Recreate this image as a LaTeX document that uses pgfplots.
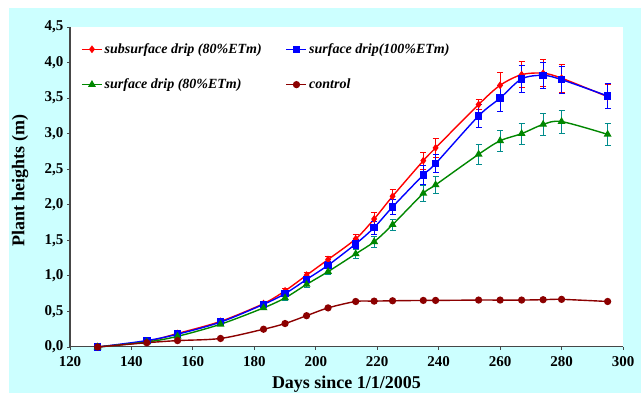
\documentclass[border=0pt]{standalone}
\usepackage{fontspec}
\setmainfont{Liberation Serif}
\usepackage{pgfplots}
\pgfplotsset{compat=1.18}
\definecolor{bgcyan}{RGB}{204,255,255}
\definecolor{axgray}{RGB}{70,70,70}
\definecolor{dgreen}{RGB}{0,135,0}
\definecolor{dred}{RGB}{140,0,0}
\definecolor{tealbar}{RGB}{0,140,140}
\begin{document}
\begin{tikzpicture}[x=1pt,y=1pt]
\fill[white] (0,0) rectangle (641,393);
\fill[bgcyan] (9,0) rectangle (641,385);
\begin{axis}[
  at={(70pt,46pt)}, anchor=south west,
  scale only axis, width=553pt, height=320pt,
  xmin=120, xmax=300, ymin=0, ymax=4.5,
  axis background/.style={fill=white},
  axis x line*=bottom, axis y line*=left,
  axis line style={axgray, line width=1pt},
  xtick={120,140,...,300},
  ytick={0,0.5,...,4.5},
  tick align=outside, major tick length=3pt,
  tick style={axgray, line width=0.8pt},
  /pgf/number format/assume math mode=true,
  yticklabel={\pgfmathprintnumber[fixed,fixed zerofill,precision=1,use comma]{\tick}},
  xticklabel style={/pgf/number format/1000 sep={}},
  tick label style={font=\fontsize{15}{15}\selectfont\bfseries},
  xticklabel style={yshift=-3pt},
  xlabel={Days since 1/1/2005},
  ylabel={Plant heights (m)},
  label style={font=\fontsize{18}{18}\selectfont\bfseries},
  xlabel style={at={(axis description cs:0.5,-0.116)}, anchor=center},
  ylabel style={at={(axis description cs:-0.09,0.52)}, anchor=center},
  clip=false,
  legend columns=2,
  legend style={draw=none, fill=none, at={(axis description cs:0.02,0.955)}, anchor=north west,
    font=\fontsize{14}{14}\selectfont\bfseries\itshape,
    /tikz/every even column/.append style={column sep=22pt},
    row sep=20pt, inner sep=0pt},
  legend cell align=left,
  legend image code/.code={\draw[mark repeat=2,mark phase=2] plot coordinates {(0pt,0pt) (10pt,0pt) (20pt,0pt)};},
  every axis plot/.append style={line width=1.4pt, smooth},
  error bars/error bar style={line width=0.8pt},
  error bars/error mark options={rotate=90, mark size=3pt, line width=0.8pt},
]
\addplot[red, mark=diamond*, mark size=2.8pt, mark options={solid},
  error bars/.cd, y dir=both, y explicit] coordinates {
 (129,0.00) +- (0,0.00)
 (145,0.08) +- (0,0.01)
 (155,0.19) +- (0,0.02)
 (169,0.36) +- (0,0.02)
 (183,0.61) +- (0,0.02)
 (190,0.79) +- (0,0.03)
 (197,1.01) +- (0,0.04)
 (204,1.23) +- (0,0.05)
 (213,1.52) +- (0,0.07)
 (219,1.80) +- (0,0.09)
 (225,2.12) +- (0,0.10)
 (235,2.62) +- (0,0.12)
 (239,2.80) +- (0,0.14)
 (253,3.41) +- (0,0.07)
 (260,3.68) +- (0,0.18)
 (267,3.83) +- (0,0.18)
 (274,3.85) +- (0,0.19)
 (280,3.78) +- (0,0.20)
 (295,3.52) +- (0,0.17)
};
\addlegendentry{subsurface drip (80\%ETm)}
\addplot[blue, mark=square*, mark size=3pt, mark options={solid},
  error bars/.cd, y dir=both, y explicit] coordinates {
 (129,0.00) +- (0,0.00)
 (145,0.09) +- (0,0.01)
 (155,0.18) +- (0,0.02)
 (169,0.35) +- (0,0.02)
 (183,0.60) +- (0,0.02)
 (190,0.75) +- (0,0.03)
 (197,0.95) +- (0,0.04)
 (204,1.15) +- (0,0.05)
 (213,1.45) +- (0,0.07)
 (219,1.68) +- (0,0.09)
 (225,1.97) +- (0,0.10)
 (235,2.42) +- (0,0.13)
 (239,2.58) +- (0,0.13)
 (253,3.25) +- (0,0.16)
 (260,3.50) +- (0,0.18)
 (267,3.77) +- (0,0.19)
 (274,3.82) +- (0,0.18)
 (280,3.76) +- (0,0.19)
 (295,3.53) +- (0,0.18)
};
\addlegendentry{surface drip(100\%ETm)}
\addplot[dgreen, mark=triangle*, mark size=3.2pt, mark options={solid},
  error bars/.cd, y dir=both, y explicit, error bar style={tealbar}] coordinates {
 (129,0.00) +- (0,0.00)
 (145,0.07) +- (0,0.01)
 (155,0.15) +- (0,0.02)
 (169,0.32) +- (0,0.02)
 (183,0.55) +- (0,0.02)
 (190,0.69) +- (0,0.03)
 (197,0.88) +- (0,0.04)
 (204,1.06) +- (0,0.04)
 (213,1.31) +- (0,0.06)
 (219,1.48) +- (0,0.08)
 (225,1.72) +- (0,0.08)
 (235,2.16) +- (0,0.11)
 (239,2.28) +- (0,0.12)
 (253,2.71) +- (0,0.14)
 (260,2.90) +- (0,0.15)
 (267,3.00) +- (0,0.15)
 (274,3.13) +- (0,0.16)
 (280,3.17) +- (0,0.16)
 (295,2.99) +- (0,0.15)
};
\addlegendentry{surface drip (80\%ETm)}
\addplot[dred, mark=*, mark size=2.9pt, mark options={solid}] coordinates {
 (129,0.00) (145,0.06) (155,0.09) (169,0.12) (183,0.25) (190,0.33) (197,0.44)
 (204,0.55) (213,0.64) (219,0.645) (225,0.65) (235,0.655) (239,0.655) (253,0.66)
 (260,0.66) (267,0.66) (274,0.665) (280,0.67) (295,0.64)
};
\addlegendentry{control}
\end{axis}
\end{tikzpicture}
\end{document}
